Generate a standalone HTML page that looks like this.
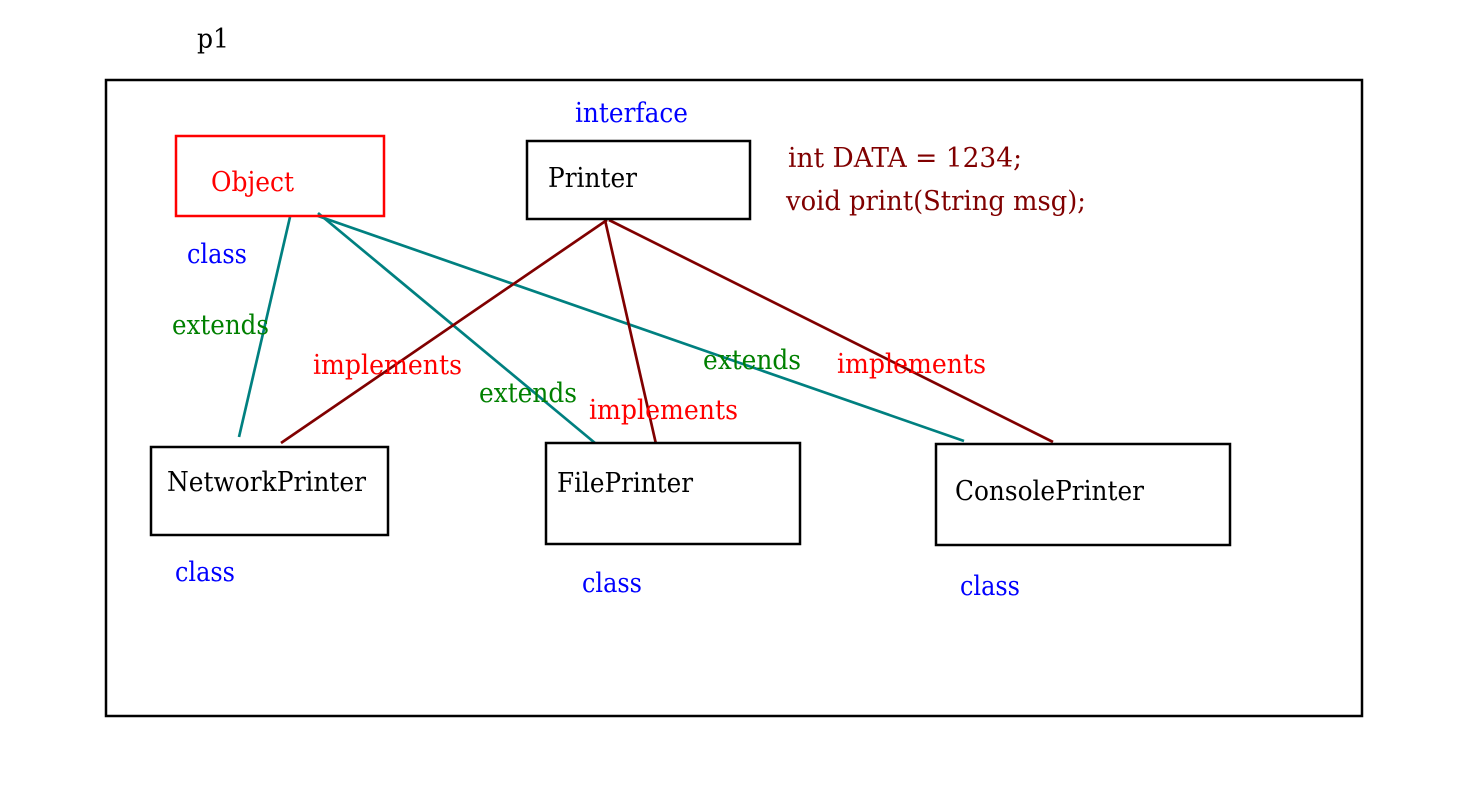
<!DOCTYPE html>
<html><head><meta charset="utf-8"><style>
html,body{margin:0;padding:0;background:#fff;}
svg{display:block;}
text{font-family:"DejaVu Serif","Liberation Serif",serif;font-size:27px;}
</style></head><body>
<svg width="1481" height="795" viewBox="0 0 1481 795" xmlns="http://www.w3.org/2000/svg">
<rect width="1481" height="795" fill="#fff"/>
<text x="197" y="48" fill="#000" textLength="32" lengthAdjust="spacingAndGlyphs">p1</text>
<rect x="106" y="80" width="1256" height="636" fill="none" stroke="#000" stroke-width="2.5"/>
<g stroke="#008080" stroke-width="2.7" fill="none">
<line x1="290" y1="217" x2="239" y2="437"/>
<line x1="318" y1="213" x2="595" y2="443"/>
<line x1="318" y1="216" x2="964" y2="441"/>
</g>
<g stroke="#800000" stroke-width="2.7" fill="none">
<line x1="607" y1="220" x2="281" y2="443"/>
<line x1="605" y1="220" x2="656" y2="444"/>
<line x1="609" y1="220" x2="1053" y2="442"/>
</g>
<rect x="176" y="136" width="208" height="80" fill="none" stroke="#ff0000" stroke-width="2.5"/>
<rect x="527" y="141" width="223" height="78" fill="#fff" stroke="#000" stroke-width="2.5"/>
<rect x="151" y="447" width="237" height="88" fill="#fff" stroke="#000" stroke-width="2.5"/>
<rect x="546" y="443" width="254" height="101" fill="#fff" stroke="#000" stroke-width="2.5"/>
<rect x="936" y="444" width="294" height="101" fill="#fff" stroke="#000" stroke-width="2.5"/>
<text x="211" y="191" fill="#ff0000" textLength="83" lengthAdjust="spacingAndGlyphs">Object</text>
<text x="575" y="122" fill="#0000ff" textLength="113" lengthAdjust="spacingAndGlyphs">interface</text>
<text x="548" y="187" fill="#000" textLength="89" lengthAdjust="spacingAndGlyphs">Printer</text>
<text x="788" y="167" fill="#800000" textLength="234" lengthAdjust="spacingAndGlyphs">int DATA = 1234;</text>
<text x="786" y="210" fill="#800000" textLength="300" lengthAdjust="spacingAndGlyphs">void print(String msg);</text>
<text x="187" y="263" fill="#0000ff" textLength="60" lengthAdjust="spacingAndGlyphs">class</text>
<text x="172" y="334" fill="#008000" textLength="97" lengthAdjust="spacingAndGlyphs">extends</text>
<text x="313" y="374" fill="#ff0000" textLength="149" lengthAdjust="spacingAndGlyphs">implements</text>
<text x="479" y="402" fill="#008000" textLength="98" lengthAdjust="spacingAndGlyphs">extends</text>
<text x="589" y="419" fill="#ff0000" textLength="149" lengthAdjust="spacingAndGlyphs">implements</text>
<text x="703" y="369" fill="#008000" textLength="98" lengthAdjust="spacingAndGlyphs">extends</text>
<text x="837" y="373" fill="#ff0000" textLength="149" lengthAdjust="spacingAndGlyphs">implements</text>
<text x="167" y="491" fill="#000" textLength="199" lengthAdjust="spacingAndGlyphs">NetworkPrinter</text>
<text x="557" y="492" fill="#000" textLength="136" lengthAdjust="spacingAndGlyphs">FilePrinter</text>
<text x="955" y="500" fill="#000" textLength="189" lengthAdjust="spacingAndGlyphs">ConsolePrinter</text>
<text x="175" y="581" fill="#0000ff" textLength="60" lengthAdjust="spacingAndGlyphs">class</text>
<text x="582" y="592" fill="#0000ff" textLength="60" lengthAdjust="spacingAndGlyphs">class</text>
<text x="960" y="595" fill="#0000ff" textLength="60" lengthAdjust="spacingAndGlyphs">class</text>
</svg>
</body></html>
